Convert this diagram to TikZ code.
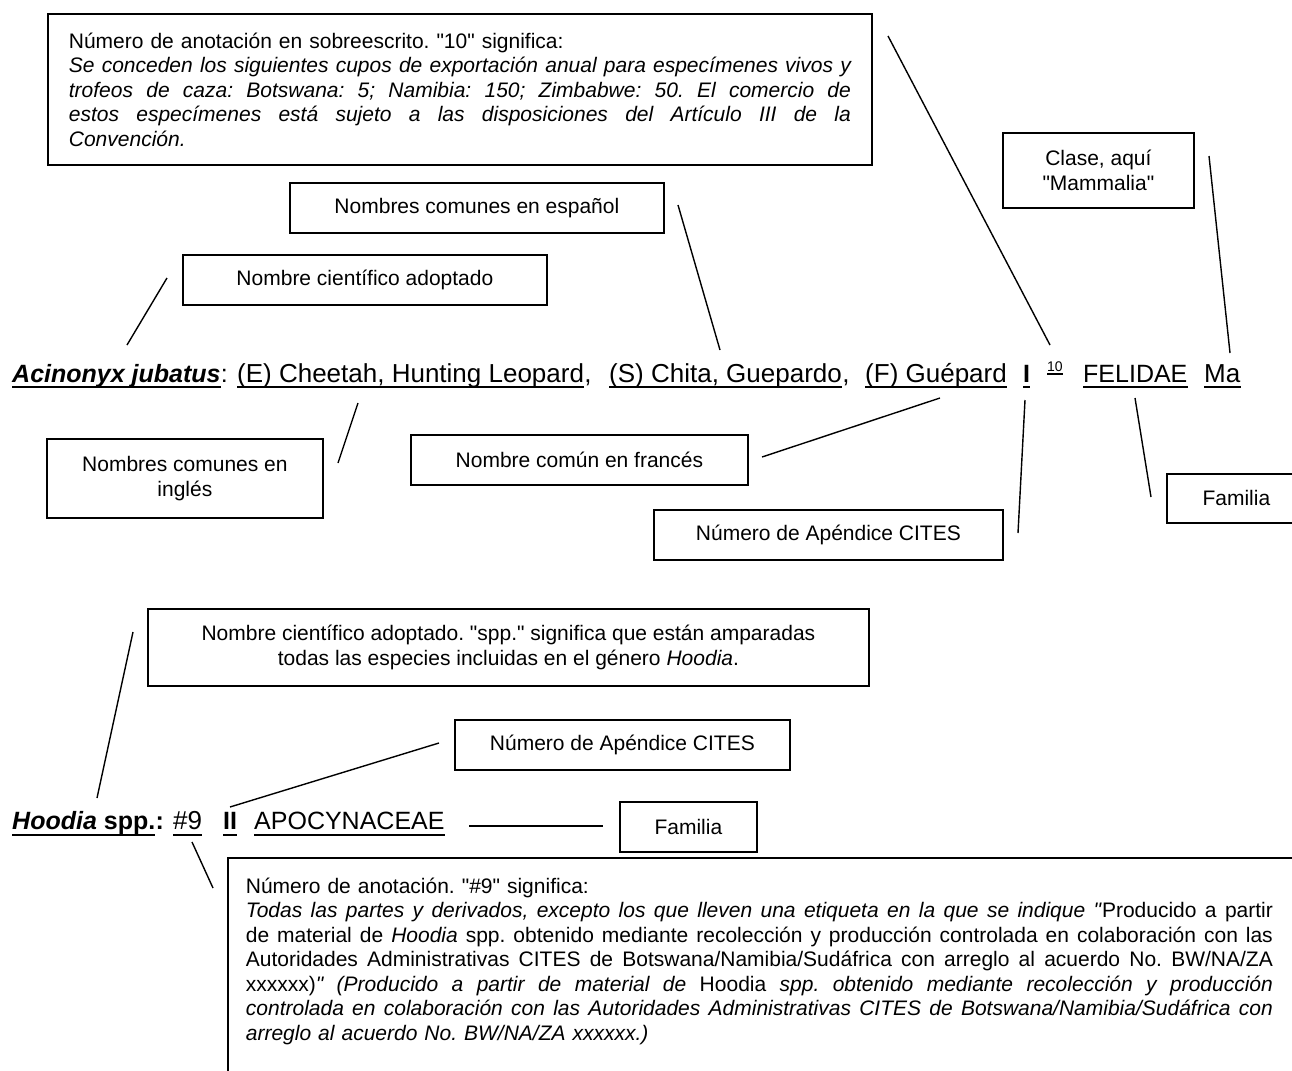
\documentclass[tikz,border=0pt]{standalone}
\usepackage{fontspec}
\setmainfont{Liberation Sans}
\usetikzlibrary{positioning}
\frenchspacing

\newcommand{\rowfont}{\fontsize{26pt}{30pt}\selectfont}
\newcommand{\namefont}{\fontsize{25pt}{30pt}\selectfont}
\newcommand{\boxfont}{\fontsize{21pt}{24.5pt}\selectfont}
\newcommand{\supfont}{\fontsize{14pt}{16pt}\selectfont}
\newcommand{\qq}{\textquotedbl}
\newcommand{\fitline}[2]{\makebox[#1][s]{\spaceskip=0pt\xspaceskip=0pt\relax #2}}

\begin{document}
\begin{tikzpicture}[x=1pt,y=-1pt]
    \tikzstyle{annot}=[draw,line width=1.8pt,font=\boxfont,inner sep=0pt,align=center,anchor=north west]
    \tikzstyle{entry}=[inner sep=0pt,anchor=base west,font=\rowfont]
    \tikzstyle{uline}=[line width=1.8pt]
    \tikzstyle{link}=[line width=1.4pt]

    \useasboundingbox (0,0) rectangle (1292,1070);
    \clip (0,0) rectangle (1292,1070);

    % Draw the Acinonyx entry
    \node[entry,font=\namefont] (sci) at (12,382) {\textbf{\textit{Acinonyx jubatus}}};
    \node[entry,font=\namefont] (sci-c) at (sci.base east) {:};
    \node[entry] (eng) at (237,382) {(E) Cheetah, Hunting Leopard};
    \node[entry] (eng-c) at (eng.base east) {,};
    \node[entry] (spa) at (609,382) {(S) Chita, Guepardo};
    \node[entry] (spa-c) at (spa.base east) {,};
    \node[entry] (fre) at (865,382) {(F) Guépard};
    \node[entry,font=\namefont] (app) at (1023,382) {\textbf{I}};
    \node[entry,font=\supfont] (ann) at (1047,371) {10};
    \node[entry,font=\namefont] (fam) at (1083,382) {FELIDAE};
    \node[entry] (cls) at (1204,382) {Ma};

    \foreach \name in {sci,eng,spa,fre,app,fam,cls}
        \draw[uline] ([yshift=-5pt]\name.base west) -- ([yshift=-5pt]\name.base east);
    \draw[uline,line width=1.2pt] ([yshift=-3pt]ann.base west) -- ([yshift=-3pt]ann.base east);

    % Draw the Hoodia entry
    \node[entry,font=\namefont] (gen) at (12,829) {\textbf{\textit{Hoodia} spp.}};
    \node[entry,font=\namefont] (gen-c) at (gen.base east) {\textbf{:}};
    \node[entry] (note) at (173,829) {\#9};
    \node[entry,font=\namefont] (app2) at (223,829) {\textbf{II}};
    \node[entry,font=\namefont] (fam2) at (254,829) {APOCYNACEAE};

    \foreach \name in {gen,note,app2,fam2}
        \draw[uline] ([yshift=-6pt]\name.base west) -- ([yshift=-6pt]\name.base east);

    % Annotation boxes for Acinonyx
    \node[annot, minimum width=824pt, minimum height=151pt, text width=782pt, inner xsep=21pt, align=left] (cupo-box) at (47,13)
        {Número de anotación en sobreescrito. \qq10\qq{} significa:\\
        \fitline{782pt}{\itshape Se conceden los siguientes cupos de exportación anual para especímenes vivos y}\\
        \fitline{782pt}{\itshape trofeos de caza: Botswana: 5; Namibia: 150; Zimbabwe: 50. El comercio de}\\
        \fitline{782pt}{\itshape estos especímenes está sujeto a las disposiciones del Artículo III de la}\\
        \textit{Convención.}};
    \node[annot, minimum width=191pt, minimum height=75pt] (cls-box) at (1002,132) {Clase, aquí\\\qq Mammalia\qq};
    \node[annot, minimum width=374pt, minimum height=50pt] (spa-box) at (289,182) {Nombres comunes en español};
    \node[annot, minimum width=364pt, minimum height=50pt] (sci-box) at (182,254) {Nombre científico adoptado};
    \node[annot, minimum width=276pt, minimum height=79pt] (eng-box) at (46,438) {Nombres comunes en\\inglés};
    \node[annot, minimum width=337pt, minimum height=50pt] (fre-box) at (410,434) {Nombre común en francés};
    \node[annot, minimum width=349pt, minimum height=50pt] (app-box) at (653,509) {Número de Apéndice CITES};
    \node[annot, minimum width=139pt, minimum height=49pt] (fam-box) at (1166,473) {Familia};

    % Annotation boxes for Hoodia
    \node[annot, minimum width=721pt, minimum height=77pt] (gen-box) at (147,608)
        {Nombre científico adoptado. \qq spp.\qq{} significa que están amparadas\\todas las especies incluidas en el género \textit{Hoodia}.};
    \node[annot, minimum width=335pt, minimum height=50pt] (app2-box) at (454,719) {Número de Apéndice CITES};
    \node[annot, minimum width=137pt, minimum height=50pt] (fam2-box) at (619,801) {Familia};
    \node[annot, text width=1100pt, inner xsep=18pt, inner ysep=20pt, align=left] (note-box) at (227,857)
        {Número de anotación. \qq\#9\qq{} significa:\\
        \fitline{1027pt}{\textit{Todas las partes y derivados, excepto los que lleven una etiqueta en la que se indique \qq}Producido a partir}\\
        \fitline{1027pt}{de material de \textit{Hoodia} spp. obtenido mediante recolección y producción controlada en colaboración con las}\\
        \fitline{1027pt}{Autoridades Administrativas CITES de Botswana/Namibia/Sudáfrica con arreglo al acuerdo No. BW/NA/ZA}\\
        \fitline{1027pt}{xxxxxx)\textit{\qq{} (Producido a partir de material de} Hoodia \textit{spp. obtenido mediante recolección y producción}}\\
        \fitline{1027pt}{\itshape controlada en colaboración con las Autoridades Administrativas CITES de Botswana/Namibia/Sudáfrica con}\\
        \textit{arreglo al acuerdo No. BW/NA/ZA xxxxxx.)}\rule[-60pt]{0pt}{0pt}};

    % Connector ends
    \coordinate (sci-a) at (167,278);  \coordinate (sci-b) at (127,345);
    \coordinate (eng-a) at (358,403);  \coordinate (eng-b) at (338,463);
    \coordinate (spa-a) at (678,205);  \coordinate (spa-b) at (720,350);
    \coordinate (fre-a) at (940,398);  \coordinate (fre-b) at (762,457);
    \coordinate (app-a) at (1025,400); \coordinate (app-b) at (1018,533);
    \coordinate (ann-a) at (888,36);   \coordinate (ann-b) at (1050,345);
    \coordinate (fam-a) at (1135,398); \coordinate (fam-b) at (1151,497);
    \coordinate (cls-a) at (1209,156); \coordinate (cls-b) at (1230,353);
    \coordinate (gen-a) at (133,632);  \coordinate (gen-b) at (97,798);
    \coordinate (app2-a) at (439,743); \coordinate (app2-b) at (230,807);
    \coordinate (fam2-a) at (469,826); \coordinate (fam2-b) at (603,826);
    \coordinate (note-a) at (192,842); \coordinate (note-b) at (213,888);

    % Connect every label to its box
    \foreach \name in {sci,eng,spa,fre,app,ann,fam,cls,gen,app2,fam2,note}
        \draw[link] (\name-a) -- (\name-b);
\end{tikzpicture}
\end{document}
